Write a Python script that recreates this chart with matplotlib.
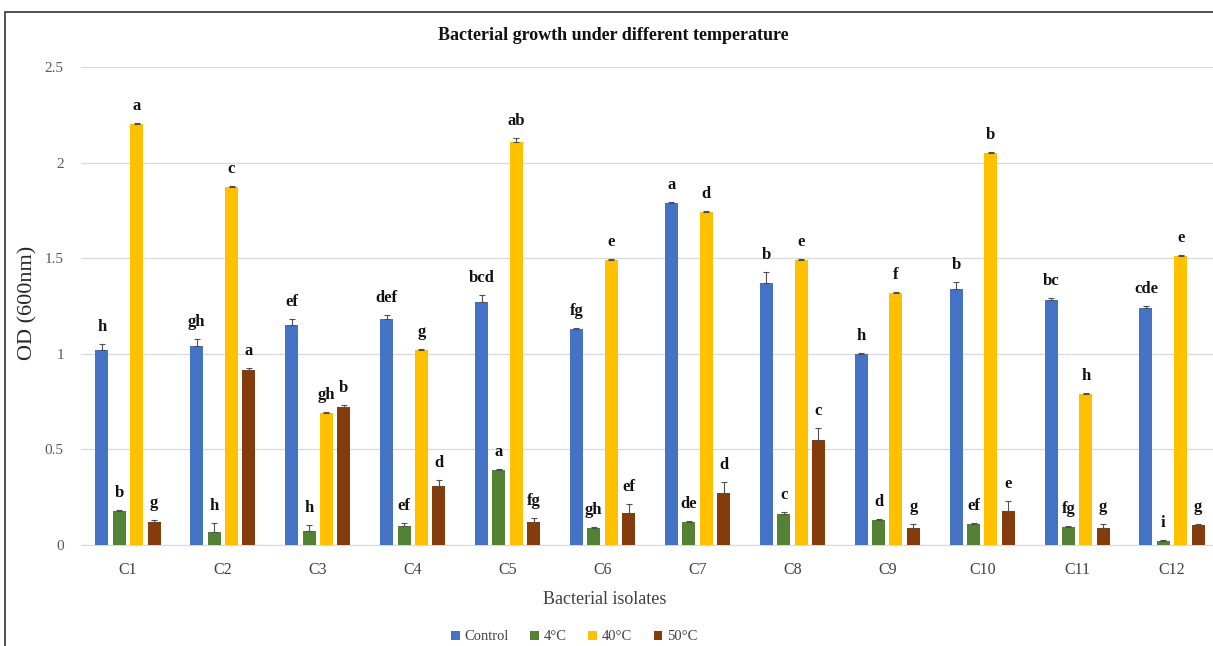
#Bacterial growth under different temperature - grouped bar chart with letters
import numpy as np
import matplotlib.pyplot as plt
from matplotlib.patches import Rectangle

#data
isolates=['C1','C2','C3','C4','C5','C6','C7','C8','C9','C10','C11','C12']
series=['Control','4°C','40°C','50°C']

control=[1.02,1.04,1.15,1.18,1.27,1.13,1.79,1.37,1.00,1.34,1.28,1.24]
t4=[0.18,0.07,0.075,0.10,0.39,0.09,0.12,0.16,0.13,0.11,0.095,0.02]
t40=[2.20,1.87,0.69,1.02,2.11,1.49,1.74,1.49,1.32,2.05,0.79,1.51]
t50=[0.12,0.915,0.72,0.31,0.12,0.165,0.27,0.55,0.09,0.18,0.09,0.105]

control_err=[0.03,0.035,0.03,0.025,0.04,0.005,0.005,0.06,0.005,0.035,0.01,0.01]
t4_err=[0.005,0.045,0.03,0.015,0.005,0.005,0.005,0.015,0.005,0.005,0.005,0.005]
t40_err=[0.005,0.005,0.005,0.005,0.02,0.005,0.005,0.005,0.005,0.005,0.005,0.005]
t50_err=[0.01,0.01,0.01,0.03,0.02,0.05,0.06,0.06,0.02,0.05,0.02,0.005]

control_lbl=['h','gh','ef','def','bcd','fg','a','b','h','b','bc','cde']
t4_lbl=['b','h','h','ef','a','gh','de','c','d','ef','fg','i']
t40_lbl=['a','c','gh','g','ab','e','d','e','f','b','h','e']
t50_lbl=['g','a','b','d','fg','ef','d','c','g','e','g','g']

colors=['#4472C4','#548235','#FFC000','#843C0C']

values=[control,t4,t40,t50]
errors=[control_err,t4_err,t40_err,t50_err]
letters=[control_lbl,t4_lbl,t40_lbl,t50_lbl]

plt.rcParams['font.family']=['Liberation Serif','DejaVu Serif']

W,H=1213,646
fig=plt.figure(figsize=(W/100,H/100),dpi=100)
#plot area position taken in pixels from the reference
ax=fig.add_axes([80.5/W,(H-545)/H,1139/W,478/H])

x=np.arange(len(isolates))
step=0.183
width=0.137
offsets=[-1.5*step,-0.5*step,0.5*step,1.5*step]

for i in range(4):
    err=np.array(errors[i])
    ax.bar(x+offsets[i],values[i],width,color=colors[i],label=series[i],zorder=3)
    ax.errorbar(x+offsets[i],values[i],yerr=[np.zeros(len(err)),err],fmt='none',
                ecolor='#505050',elinewidth=0.8,capsize=2.5,capthick=0.8,zorder=4)
    for j in range(len(isolates)):
        ax.annotate(letters[i][j],(x[j]+offsets[i],values[i][j]+err[j]),
                    xytext=(0,6.5),textcoords='offset points',ha='center',va='bottom',
                    fontsize=12,fontweight='bold',color='#111111')

ax.set_xlim(-0.5,len(isolates)-0.5)
ax.set_ylim(0,2.5)
ax.set_yticks([0,0.5,1,1.5,2,2.5])
ax.set_yticklabels(['0','0.5','1','1.5','2','2.5'])
ax.set_xticks(x)
ax.set_xticklabels(isolates)
ax.tick_params(axis='y',length=0,pad=12,labelsize=11,labelcolor='#595959')
ax.tick_params(axis='x',length=0,pad=12,labelsize=11.5,labelcolor='#404040')
ax.grid(axis='y',color='#D9D9D9',linewidth=0.9,zorder=0)
for s in ['top','right','left']:
    ax.spines[s].set_visible(False)
ax.spines['bottom'].set_color('#D9D9D9')

#titles placed like the excel chart
fig.text(613/W,(H-35)/H,'Bacterial growth under different temperature',ha='center',va='center',
         fontsize=13,fontweight='bold',color='#111111')
fig.text(28/W,(H-303)/H,'OD (600nm)',rotation=90,ha='center',va='center',fontsize=16,color='#262626')
fig.text(605/W,(H-600)/H,'Bacterial isolates',ha='center',va='center',fontsize=13,color='#404040')

fig.legend(loc='center',bbox_to_anchor=(574/W,(H-637)/H),ncol=4,frameon=False,fontsize=10.5,
           handlelength=0.6,handleheight=0.6,handletextpad=0.3,columnspacing=1.5,labelcolor='#404040')

#outer chart border
fig.patches.append(Rectangle((5/W,-0.1),1.2,(H-12)/H+0.1,transform=fig.transFigure,
                             fill=False,edgecolor='#333333',linewidth=1.2))

plt.savefig('out.png',dpi=100)
